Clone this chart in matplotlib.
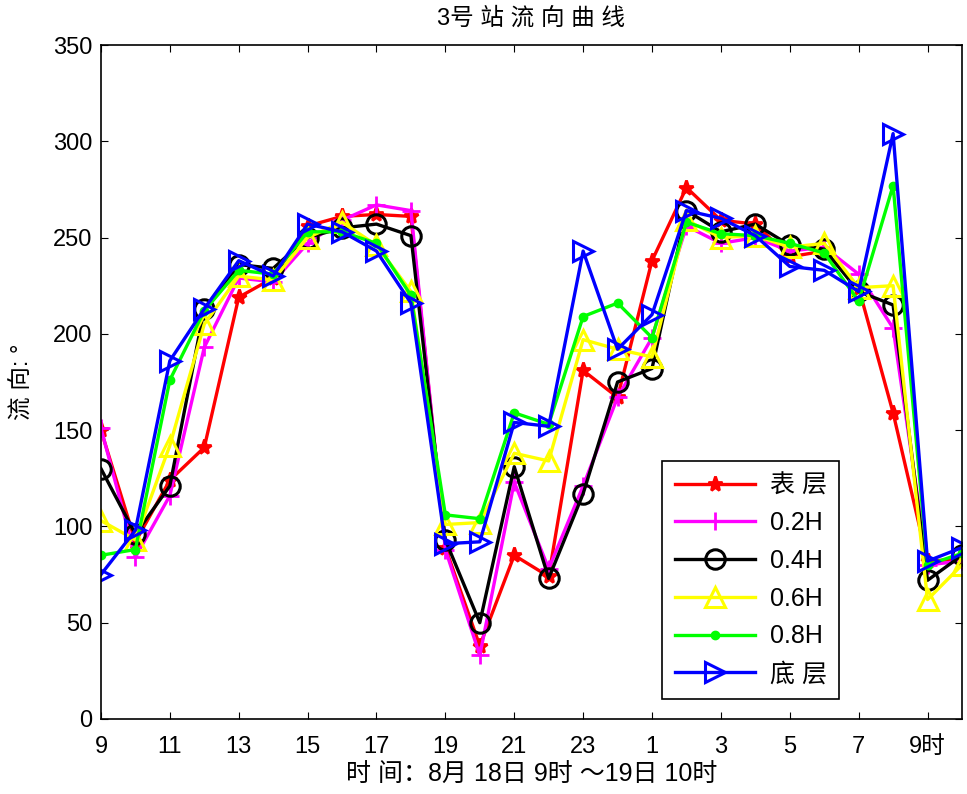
import matplotlib
matplotlib.use('Agg')
import matplotlib.pyplot as plt

plt.rcParams['font.family'] = ['Liberation Sans', 'Noto Sans CJK SC']

# hours from 8/18 9:00 to 8/19 10:00
hours = list(range(9, 24)) + list(range(0, 11))
tick_labels = ['9', '11', '13', '15', '17', '19', '21', '23', '1', '3', '5', '7', '9时']

surface = [150, 92, 124, 141, 219, 229, 256, 261, 262, 261, 89, 38, 85, 74, 181,
           167, 238, 276, 259, 257, 240, 243, 224, 159, 82, 83]
h02 = [151, 84, 116, 193, 229, 227, 247, 259, 267, 264, 88, 33, 123, 78, 121,
       167, 198, 256, 247, 250, 243, 245, 231, 203, 80, 82]
h04 = [130, 96, 121, 213, 236, 234, 250, 255, 257, 251, 93, 50, 131, 73, 117,
       175, 182, 264, 253, 257, 246, 244, 222, 215, 72, 85]
h06 = [103, 93, 142, 205, 230, 228, 250, 258, 246, 222, 101, 102, 138, 134, 197,
       192, 188, 259, 250, 251, 245, 247, 224, 225, 62, 80]
h08 = [85, 88, 176, 212, 233, 231, 253, 253, 247, 220, 106, 104, 159, 153, 209,
       216, 198, 258, 252, 251, 247, 242, 217, 277, 80, 86]
bottom = [75, 98, 186, 213, 238, 230, 257, 253, 243, 216, 91, 92, 154, 152, 243,
          192, 210, 264, 260, 251, 235, 233, 222, 304, 82, 89]

x = list(range(len(hours)))

fig = plt.figure(figsize=(9.67, 7.94), dpi=100)
ax = fig.add_axes([0.1044, 0.0945, 0.8904, 0.8488])

lw = 2.4
ax.plot(x, surface, color='red', lw=lw, marker='*', ms=11, mew=2, label='表 层')
ax.plot(x, h02, color='magenta', lw=lw, marker='+', ms=13, mew=2, label='0.2H')
ax.plot(x, h04, color='black', lw=lw, marker='o', ms=14, mew=2.2, mfc='none', label='0.4H')
ax.plot(x, h06, color='yellow', lw=lw, marker='^', ms=15, mew=2.2, mfc='none', label='0.6H')
ax.plot(x, h08, color='#00ff00', lw=lw, marker='o', ms=6, label='0.8H')
ax.plot(x, bottom, color='blue', lw=lw, marker='>', ms=15, mew=2.2, mfc='none', label='底 层')

ax.set_xlim(0, len(hours) - 1)
ax.set_ylim(0, 350)
ax.set_xticks(x[::2])
ax.set_xticklabels(tick_labels)
ax.set_yticks(range(0, 351, 50))
ax.tick_params(direction='in', top=True, right=True, length=5, labelsize=17)
ax.tick_params(axis='x', pad=12)
ax.tick_params(axis='y', pad=6)
for s in ax.spines.values():
    s.set_linewidth(1.2)

ax.set_title('3号 站 流 向 曲 线', fontsize=17, pad=15)
ax.set_xlabel('时 间：8月 18日 9时 ～19日 10时', fontsize=18, labelpad=4)
ax.set_ylabel('流 向: °', fontsize=17, labelpad=14)

leg = ax.legend(loc='lower left', bbox_to_anchor=(0.652, 0.03), borderaxespad=0,
                fontsize=18, handlelength=3.2, fancybox=False, framealpha=1,
                edgecolor='black', borderpad=0.5, labelspacing=0.55, handletextpad=0.6)
leg.get_frame().set_linewidth(1.2)

plt.savefig('out.png', dpi=100)
plt.close()
